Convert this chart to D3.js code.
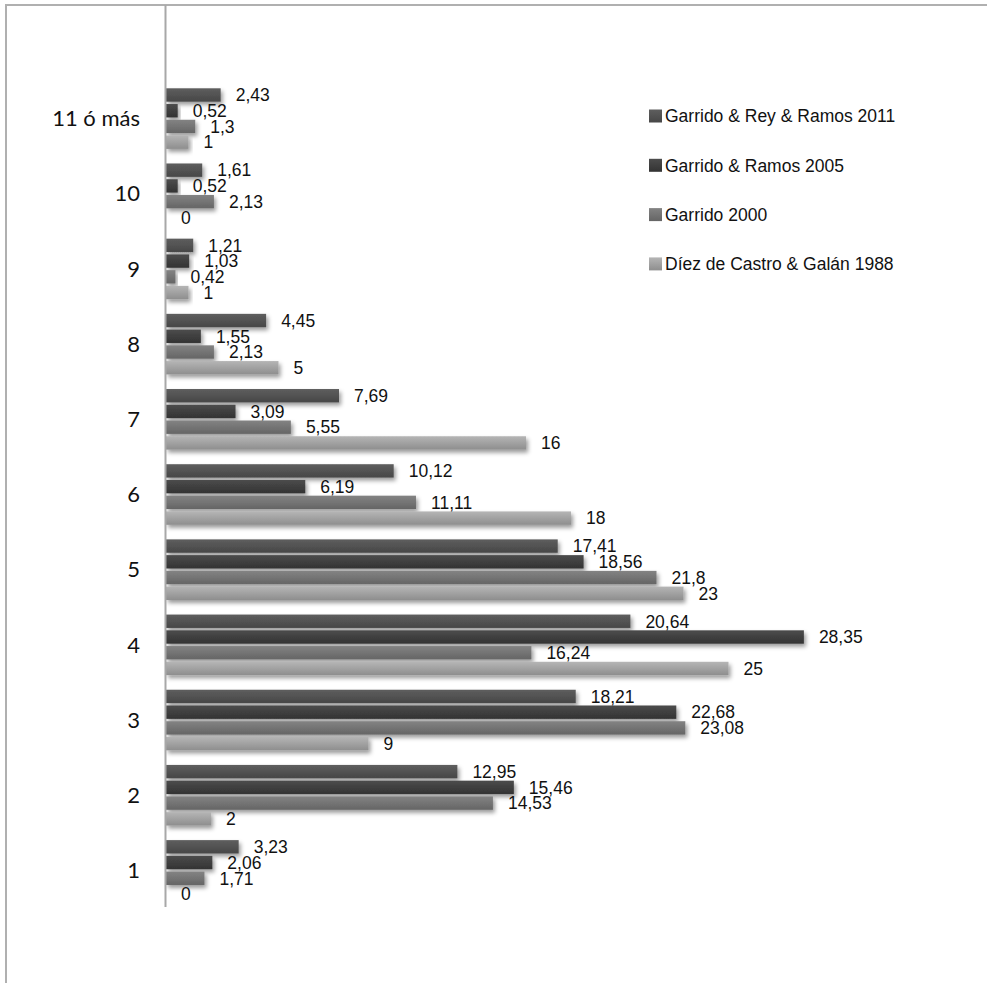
<!DOCTYPE html>
<html lang="es">
<head>
<meta charset="utf-8">
<title>Barras horizontales</title>
<script src="https://cdn.jsdelivr.net/npm/d3@7"></script>
<style>
  body { margin: 0; background: #fff; }
  svg { display: block; }
  .val { font-family: "Liberation Sans", Arial, sans-serif; font-size: 17.5px; fill: #111; }
  .cat { font-family: Lato, "Open Sans", sans-serif; font-size: 22px; fill: #111; }
  .leg { font-family: "Liberation Sans", Arial, sans-serif; font-size: 17.5px; fill: #111; }
</style>
</head>
<body>
<script>
// data, top to bottom as in the picture
var categories = ["11 ó más", "10", "9", "8", "7", "6", "5", "4", "3", "2", "1"];
var seriesNames = ["Garrido & Rey & Ramos 2011", "Garrido & Ramos 2005", "Garrido 2000", "Díez de Castro & Galán 1988"];
var s2011 = [2.43, 1.61, 1.21, 4.45, 7.69, 10.12, 17.41, 20.64, 18.21, 12.95, 3.23];
var s2005 = [0.52, 0.52, 1.03, 1.55, 3.09, 6.19, 18.56, 28.35, 22.68, 15.46, 2.06];
var s2000 = [1.3, 2.13, 0.42, 2.13, 5.55, 11.11, 21.8, 16.24, 23.08, 14.53, 1.71];
var s1988 = [1, 0, 1, 5, 16, 18, 23, 25, 9, 2, 0];
var seriesValues = [s2011, s2005, s2000, s1988];

var w = 987, h = 983;

// gradient stops for each series (top, bottom)
var grads = [["#5e5e5e", "#474747"], ["#4c4c4c", "#333333"], ["#838383", "#656565"], ["#b5b5b5", "#8e8e8e"]];

var svg = d3.select("body").append("svg")
    .attr("width", w)
    .attr("height", h);

var defs = svg.append("defs");
grads.forEach(function(g, i) {
    var lg = defs.append("linearGradient")
        .attr("id", "g" + i)
        .attr("x1", 0).attr("y1", 0).attr("x2", 0).attr("y2", 1);
    lg.append("stop").attr("offset", "0%").attr("stop-color", g[0]);
    lg.append("stop").attr("offset", "100%").attr("stop-color", g[1]);
});
defs.append("filter")
    .attr("id", "shadow")
    .attr("x", "-10%").attr("y", "-50%").attr("width", "130%").attr("height", "250%")
    .append("feDropShadow")
    .attr("dx", 2).attr("dy", 3).attr("stdDeviation", 2)
    .attr("flood-color", "#000").attr("flood-opacity", 0.4);

// frame lines (top and left only are visible)
svg.append("line").attr("x1", 5).attr("x2", w).attr("y1", 5).attr("y2", 5)
    .attr("stroke", "#b0b0b0").attr("stroke-width", 2);
svg.append("line").attr("x1", 6).attr("x2", 6).attr("y1", 5).attr("y2", h)
    .attr("stroke", "#b0b0b0").attr("stroke-width", 2);

var x = d3.scaleLinear().domain([0, 30]).range([166, 841]);
var y = d3.scaleBand().domain(categories).range([81, 908]).paddingInner(0.194).paddingOuter(0.097);
var ySub = d3.scaleBand().domain(d3.range(4)).range([0, y.bandwidth()]).paddingInner(0.15);

var groups = svg.selectAll("g.grp")
    .data(categories)
    .enter()
    .append("g")
    .attr("class", "grp")
    .attr("transform", function(d) { return "translate(0," + y(d) + ")"; });

groups.each(function(cat, ci) {
    var g = d3.select(this);
    var rows = seriesValues.map(function(vals, si) { return { s: si, v: vals[ci] }; });
    g.selectAll("rect")
        .data(rows)
        .enter()
        .append("rect")
        .attr("x", x(0))
        .attr("y", function(d) { return ySub(d.s); })
        .attr("width", function(d) { return x(d.v) - x(0); })
        .attr("height", ySub.bandwidth())
        .attr("fill", function(d) { return "url(#g" + d.s + ")"; })
        .attr("filter", "url(#shadow)");
    g.selectAll("text")
        .data(rows)
        .enter()
        .append("text")
        .attr("class", "val")
        .attr("x", function(d) { return x(d.v) + 15; })
        .attr("y", function(d) { return ySub(d.s) + ySub.bandwidth() / 2; })
        .attr("dy", "0.36em")
        .text(function(d) { return String(d.v).replace(".", ","); });
});

// category axis
svg.append("line")
    .attr("x1", 165.5).attr("x2", 165.5).attr("y1", 5).attr("y2", 907)
    .attr("stroke", "#a8a8a8").attr("stroke-width", 2);

svg.selectAll("text.cat")
    .data(categories)
    .enter()
    .append("text")
    .attr("class", "cat")
    .attr("x", 140)
    .attr("y", function(d) { return y(d) + y.bandwidth() / 2; })
    .attr("dy", "0.35em")
    .attr("text-anchor", "end")
    .text(function(d) { return d; });

// legend
var legend = svg.selectAll("g.leg")
    .data(seriesNames)
    .enter()
    .append("g")
    .attr("transform", function(d, i) { return "translate(649," + (116 + i * 49.3) + ")"; });
legend.append("rect")
    .attr("x", 0).attr("y", -6.5).attr("width", 13).attr("height", 13)
    .attr("fill", function(d, i) { return "url(#g" + i + ")"; });
legend.append("text")
    .attr("class", "leg")
    .attr("x", 16)
    .attr("dy", "0.36em")
    .text(function(d) { return d; });
</script>
</body>
</html>
